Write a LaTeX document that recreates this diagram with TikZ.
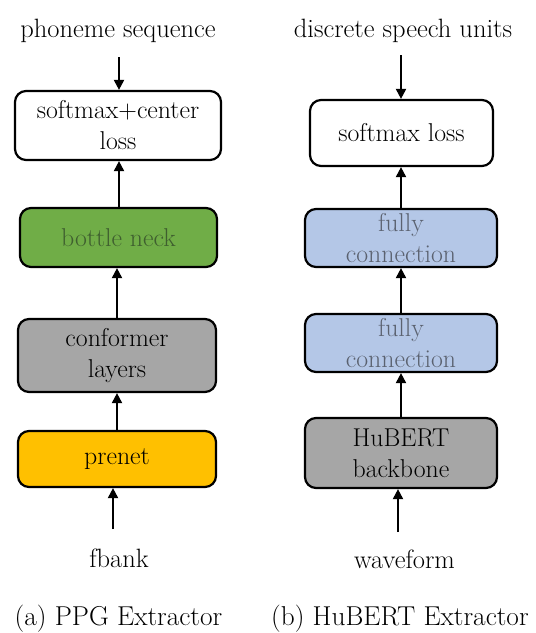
\documentclass[tikz,border=0pt]{standalone}
\usepackage{fontspec}
\setmainfont{Latin Modern Roman}
\usetikzlibrary{arrows.meta}
\definecolor{bngreen}{HTML}{70AD47}
\definecolor{bntext}{HTML}{3F5F2F}
\definecolor{fcblue}{HTML}{B4C7E7}
\definecolor{fctext}{HTML}{5B6270}
\definecolor{midgray}{HTML}{A6A6A6}
\definecolor{amber}{HTML}{FFC000}
\begin{document}
\begin{tikzpicture}[x=1pt,y=-1pt,
  box/.style={draw=black, line width=2.2pt, rounded corners=11pt, align=center,
    inner sep=0pt, font=\fontsize{25.8}{31}\selectfont},
  lbl/.style={inner sep=0pt, font=\fontsize{26.5}{31}\selectfont},
  captext/.style={inner sep=0pt, font=\fontsize{27.3}{34}\selectfont},
  arr/.style={-{Triangle[length=10pt,width=10pt]}, line width=2pt}]
\useasboundingbox (0,0) rectangle (536,633);

% ---- left column: PPG extractor ----
\node[lbl, anchor=base] (phon) at (118,37) {phoneme sequence};
\node[box, fill=white, minimum width=206pt, minimum height=69pt] (smc) at (118,125.5) {softmax+center\\loss};
\node[box, fill=bngreen, text=bntext, minimum width=197pt, minimum height=59pt] (bn) at (118.5,237.5) {bottle neck};
\node[box, fill=midgray, minimum width=198pt, minimum height=73pt] (conf) at (117,355.5) {conformer\\layers};
\node[box, fill=amber, minimum width=198pt, minimum height=56pt] (pre) at (117,459) {prenet};
\node[lbl, anchor=base] (fbank) at (119,567) {fbank};
\node[captext, anchor=base] (capa) at (118.5,625) {(a) PPG Extractor};

\coordinate (phonend) at (119,57);
\coordinate (lcol) at (119,0);
\coordinate (fbstart) at (113,529);
\draw[arr] (phonend) -- (phonend |- smc.north);
\draw[arr] (lcol |- bn.north) -- (lcol |- smc.south);
\draw[arr] (conf.north) -- (conf.north |- bn.south);
\draw[arr] (pre.north) -- (conf.south);
\draw[arr] (fbstart) -- (fbstart |- pre.south);

% ---- right column: HuBERT extractor ----
\node[lbl, anchor=base] (disc) at (403,37) {discrete speech units};
\node[box, fill=white, minimum width=183pt, minimum height=66pt] (sml) at (401.5,133) {softmax loss};
\node[box, fill=fcblue, text=fctext, minimum width=192pt, minimum height=58pt] (fca) at (401,238) {fully\\connection};
\node[box, fill=fcblue, text=fctext, minimum width=192pt, minimum height=58pt] (fcb) at (401,343) {fully\\connection};
\node[box, fill=midgray, minimum width=192pt, minimum height=70pt] (hub) at (401,453) {HuBERT\\backbone};
\node[lbl, anchor=base] (wave) at (404.5,568) {waveform};
\node[captext, anchor=base west] (capb) at (271,625) {(b) HuBERT Extractor};

\coordinate (discend) at (401,55);
\coordinate (wvstart) at (398,532);
\draw[arr] (discend) -- (discend |- sml.north);
\draw[arr] (fca.north) -- (fca.north |- sml.south);
\draw[arr] (fcb.north) -- (fca.south);
\draw[arr] (hub.north) -- (fcb.south);
\draw[arr] (wvstart) -- (wvstart |- hub.south);
\end{tikzpicture}
\end{document}
